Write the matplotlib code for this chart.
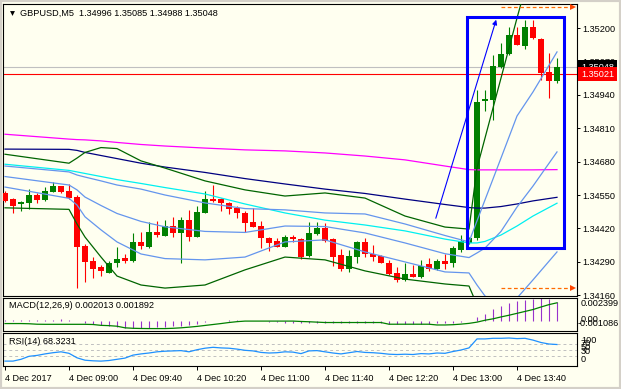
import matplotlib.pyplot as plt
import matplotlib.transforms as mtransforms
from matplotlib.patches import Rectangle

plt.rcParams['font.family'] = ['Liberation Sans', 'DejaVu Sans']

W, H = 621, 389
BG = '#FFFFF0'
FS = 6.6

symbol = 'GBPUSD,M5'

# M5 candles, bar 0 = 08:20
opens = [1.34558, 1.34533, 1.34515, 1.34518, 1.34549, 1.34531, 1.34563, 1.34585, 1.34565, 1.34543,
         1.34351, 1.34293, 1.34268, 1.34247, 1.34286, 1.34303, 1.34293, 1.34368, 1.34348, 1.34407,
         1.34391, 1.34429, 1.34403, 1.34453, 1.34387, 1.34481, 1.34533, 1.34534, 1.34520, 1.34499,
         1.34481, 1.34446, 1.34429, 1.34381, 1.34371, 1.34348, 1.34387, 1.34377, 1.34312, 1.34398,
         1.34423, 1.34378, 1.34316, 1.34260, 1.34309, 1.34366, 1.34320, 1.34312, 1.34286, 1.34247,
         1.34219, 1.34242, 1.34229, 1.34281, 1.34260, 1.34294, 1.34284, 1.34336, 1.34363, 1.34381,
         1.34918, 1.34921, 1.35048, 1.35099, 1.35174, 1.35131, 1.35204, 1.35157, 1.35031, 1.34996]
highs = [1.34566, 1.34538, 1.34527, 1.34573, 1.34557, 1.34583, 1.34601, 1.34587, 1.34591, 1.34550,
         1.34358, 1.34307, 1.34277, 1.34293, 1.34348, 1.34320, 1.34401, 1.34407, 1.34446, 1.34449,
         1.34453, 1.34465, 1.34465, 1.34492, 1.34507, 1.34566, 1.34589, 1.34540, 1.34524, 1.34507,
         1.34489, 1.34498, 1.34450, 1.34385, 1.34381, 1.34394, 1.34394, 1.34381, 1.34446, 1.34446,
         1.34440, 1.34381, 1.34338, 1.34336, 1.34371, 1.34381, 1.34355, 1.34316, 1.34297, 1.34268,
         1.34284, 1.34277, 1.34297, 1.34303, 1.34299, 1.34320, 1.34352, 1.34394, 1.34387, 1.34960,
         1.34960, 1.35096, 1.35142, 1.35206, 1.35206, 1.35233, 1.35233, 1.35161, 1.35103, 1.35085]
lows = [1.34523, 1.34481, 1.34489, 1.34495, 1.34519, 1.34528, 1.34562, 1.34556, 1.34536, 1.34189,
        1.34212, 1.34228, 1.34235, 1.34245, 1.34268, 1.34284, 1.34290, 1.34338, 1.34342, 1.34385,
        1.34390, 1.34387, 1.34286, 1.34372, 1.34385, 1.34479, 1.34524, 1.34489, 1.34475, 1.34459,
        1.34405, 1.34424, 1.34342, 1.34333, 1.34347, 1.34346, 1.34368, 1.34299, 1.34309, 1.34394,
        1.34368, 1.34273, 1.34255, 1.34251, 1.34284, 1.34307, 1.34293, 1.34284, 1.34238, 1.34212,
        1.34216, 1.34229, 1.34225, 1.34255, 1.34258, 1.34260, 1.34270, 1.34329, 1.34359, 1.34375,
        1.34876, 1.34843, 1.35044, 1.35096, 1.35134, 1.35118, 1.35157, 1.34999, 1.34927, 1.34988]
closes = [1.34528, 1.34509, 1.34522, 1.34550, 1.34531, 1.34566, 1.34585, 1.34563, 1.34538, 1.34348,
          1.34290, 1.34260, 1.34255, 1.34286, 1.34299, 1.34294, 1.34368, 1.34351, 1.34407, 1.34394,
          1.34429, 1.34403, 1.34453, 1.34387, 1.34485, 1.34534, 1.34528, 1.34520, 1.34495, 1.34479,
          1.34442, 1.34426, 1.34381, 1.34364, 1.34348, 1.34385, 1.34377, 1.34309, 1.34402, 1.34420,
          1.34371, 1.34309, 1.34260, 1.34312, 1.34368, 1.34319, 1.34307, 1.34286, 1.34242, 1.34219,
          1.34242, 1.34231, 1.34273, 1.34260, 1.34294, 1.34281, 1.34342, 1.34369, 1.34384, 1.34914,
          1.34923, 1.35053, 1.35100, 1.35174, 1.35135, 1.35204, 1.35161, 1.35027, 1.34996, 1.35048]

line_bars = [0, 8, 9, 10, 12, 14, 17, 20, 25, 30, 35, 40, 45, 50, 55, 58, 59, 60, 62, 64, 66, 69]
ma_magenta = [1.34787, 1.34768, 1.34766, 1.34765, 1.34761, 1.34755, 1.34747, 1.34741, 1.34733, 1.34726, 1.34722,
              1.34714, 1.34702, 1.34687, 1.34663, 1.34649, 1.34648, 1.34648, 1.34648, 1.34648, 1.34648, 1.34649]
ma_navy = [1.34729, 1.34728, 1.34724, 1.34716, 1.34704, 1.34692, 1.34674, 1.34659, 1.34638, 1.34614, 1.34593,
           1.34573, 1.34556, 1.34534, 1.34513, 1.34501, 1.34499, 1.34499, 1.34505, 1.34515, 1.34527, 1.34541]
ema_cyan = [1.34670, 1.34646, 1.34640, 1.34634, 1.34622, 1.34610, 1.34595, 1.34579, 1.34554, 1.34515, 1.34480,
            1.34452, 1.34433, 1.34410, 1.34378, 1.34363, 1.34363, 1.34369, 1.34394, 1.34429, 1.34468, 1.34518]
bb_upper = [1.34709, 1.34674, 1.34694, 1.34716, 1.34735, 1.34731, 1.34683, 1.34655, 1.34605, 1.34570, 1.34546,
            1.34558, 1.34538, 1.34468, 1.34425, 1.34417, 1.34655, 1.34772, 1.35006, 1.35240, 1.35467, 1.35701]
bb_lower = [1.34500, 1.34494, 1.34437, 1.34386, 1.34308, 1.34234, 1.34199, 1.34187, 1.34199, 1.34258, 1.34308,
            1.34297, 1.34254, 1.34222, 1.34203, 1.34195, 1.34121, 1.34063, 1.33985, 1.33907, 1.33829, 1.33751]
band_upper = [1.34663, 1.34640, 1.34628, 1.34620, 1.34605, 1.34589, 1.34573, 1.34550, 1.34519, 1.34497, 1.34492,
              1.34480, 1.34476, 1.34437, 1.34392, 1.34367, 1.34449, 1.34531, 1.34694, 1.34858, 1.34952, 1.35108]
band_mid = [1.34622, 1.34589, 1.34570, 1.34542, 1.34509, 1.34478, 1.34447, 1.34426, 1.34408, 1.34404, 1.34429,
            1.34427, 1.34402, 1.34363, 1.34321, 1.34306, 1.34324, 1.34343, 1.34408, 1.34503, 1.34585, 1.34718]
band_lower = [1.34581, 1.34537, 1.34511, 1.34465, 1.34414, 1.34367, 1.34320, 1.34302, 1.34297, 1.34308, 1.34367,
              1.34375, 1.34328, 1.34289, 1.34250, 1.34246, 1.34199, 1.34156, 1.34121, 1.34148, 1.34219, 1.34328]

macd_main = [0.00012, 0.00010, 0.00008, 0.00010, 0.00009, 0.00010, 0.00012, 0.00014, 0.00012,
             -0.00005, -0.00020, -0.00035, -0.00048, -0.00060, -0.00068, -0.00072, -0.00075, -0.00076, -0.00073, -0.00070,
             -0.00066, -0.00060, -0.00052, -0.00045, -0.00032, -0.00018, -0.00006, 0.00002, 0.00004, 0.00003,
             0.00001, -0.00002, -0.00008, -0.00014, -0.00018, -0.00020, -0.00021, -0.00026, -0.00022, -0.00019,
             -0.00021, -0.00022, -0.00027, -0.00028, -0.00026, -0.00025, -0.00026, -0.00027, -0.00030, -0.00033,
             -0.00033, -0.00034, -0.00032, -0.00031, -0.00029, -0.00027, -0.00022, -0.00015, -0.00008, 0.00038,
             0.00075, 0.00120, 0.00155, 0.00185, 0.00208, 0.00222, 0.00234, 0.00239, 0.00226, 0.002013]
macd_signal = [-0.00030, -0.00030, -0.00030, -0.00032, -0.00037, -0.00038, -0.00038, -0.00038, -0.00038,
               -0.00038, -0.00038, -0.00040, -0.00049, -0.00052, -0.00058, -0.00075, -0.00080, -0.00082, -0.00083, -0.00083,
               -0.00083, -0.00080, -0.00075, -0.00068, -0.00060, -0.00050, -0.00040, -0.00030, -0.00019, -0.00010,
               -0.00004, -0.00004, -0.00004, -0.00004, -0.00004, -0.00004, -0.00004, -0.00008, -0.00011, -0.00015,
               -0.00019, -0.00019, -0.00019, -0.00019, -0.00019, -0.00019, -0.00019, -0.00019, -0.00037, -0.00037,
               -0.00037, -0.00037, -0.00037, -0.00037, -0.00045, -0.00045, -0.00042, -0.00036, -0.00028, -0.00015,
               0.00005, 0.00020, 0.00040, 0.00058, 0.00078, 0.00098, 0.00118, 0.00145, 0.00170, 0.001892]
rsi = [13, 13, 19, 29, 32, 37, 41, 44, 39, 24, 16, 14, 13, 15, 19, 23, 33, 37, 40, 44,
       46, 47, 48, 44, 51, 56, 59, 57, 56, 53, 49, 47, 42, 40, 41, 44, 43, 38, 47, 48,
       44, 40, 37, 41, 45, 42, 41, 39, 36, 35, 36, 35, 38, 37, 40, 39, 45, 50, 57, 87,
       87, 89, 89, 90, 88, 89, 83, 75, 70, 68.3231]
rsi_levels = [70, 50, 30]

price_ticks = [1.35200, 1.35070, 1.34940, 1.34810, 1.34680, 1.34550, 1.34420, 1.34290, 1.34160]
time_tick_bars = [0, 8, 16, 24, 32, 40, 48, 56, 64]
time_labels = ['4 Dec 2017', '4 Dec 09:00', '4 Dec 09:40', '4 Dec 10:20', '4 Dec 11:00',
               '4 Dec 11:40', '4 Dec 12:20', '4 Dec 13:00', '4 Dec 13:40']

bid = 1.35048
red_level = 1.35021
box_t0, box_t1, box_lo, box_hi = 57.8, 69.9, 1.34342, 1.35243
trend_t0, trend_p0, trend_t1, trend_p1 = 53.75, 1.34449, 61.5, 1.35244
mark_hi, mark_lo = 1.35284, 1.34186
mark_t0, mark_t1 = 62, 71.0
macd_top, macd_bottom = 0.002399, -0.001086

fig = plt.figure(figsize=(W / 100, H / 100), dpi=100, facecolor=BG)


def px_axes(x0, y0, x1, y1):
    a = fig.add_axes([x0 / W, 1 - y1 / H, (x1 - x0) / W, (y1 - y0) / H])
    a.set_facecolor(BG)
    a.set_xlim(-0.25, 71.5)
    for s in a.spines.values():
        s.set_linewidth(0.8)
        s.set_color('black')
    return a


# main chart
ax = px_axes(3, 4, 577, 296)
ax.set_ylim(1.341561, 1.352949)
bars = list(range(len(opens)))
cols = ['#008000' if c >= o else '#FF0000' for o, c in zip(opens, closes)]
ax.vlines(bars, lows, highs, colors=cols, lw=0.8, zorder=2)
bottoms = [min(o, c) for o, c in zip(opens, closes)]
heights = [max(abs(c - o), 0.00004) for o, c in zip(opens, closes)]
ax.bar(bars, heights, bottom=bottoms, width=0.65, color=cols, lw=0, zorder=3)

for vals, col in [(ma_magenta, '#FF00FF'), (ma_navy, '#000080'), (ema_cyan, '#00F0F0'),
                  (bb_upper, '#006400'), (bb_lower, '#006400'),
                  (band_upper, '#6495ED'), (band_mid, '#6495ED'), (band_lower, '#6495ED')]:
    ax.plot(line_bars, vals, color=col, lw=0.9, zorder=4)

ax.axhline(bid, color='#C0C0C0', lw=0.8, zorder=1)
ax.axhline(red_level, color='#FF0000', lw=0.8, zorder=1)

ax.add_patch(Rectangle((box_t0, box_lo), box_t1 - box_t0, box_hi - box_lo, fill=False,
                       ec='#0000FF', lw=2.2, joinstyle='miter', zorder=6))
ax.annotate('', xy=(trend_t1, trend_p1), xytext=(trend_t0, trend_p0),
            arrowprops=dict(arrowstyle='-|>', color='#0000FF', lw=0.8, mutation_scale=7), zorder=6)

for lvl in [mark_hi, mark_lo]:
    ax.plot([mark_t0, mark_t1], [lvl, lvl], ls=(0, (3, 2)), color='#FF6A00', lw=0.9, zorder=6)
    ax.plot([mark_t1], [lvl], marker='>', color='#FF4500', ms=4, mew=0, zorder=6, clip_on=False)

ax.set_xticks([])
ax.yaxis.tick_right()
ax.set_yticks(price_ticks)
ax.set_yticklabels([f'{p:.5f}' for p in price_ticks])
ax.tick_params(axis='y', direction='out', length=2.5, width=0.7, pad=1.5, labelsize=FS)

trans = mtransforms.blended_transform_factory(ax.transAxes, ax.transData)
ax.text(1.0069, bid, f'{bid:.5f}', transform=trans, color='white', fontsize=FS, va='center', ha='left',
        bbox=dict(boxstyle='square,pad=0.3', fc='black', ec='none'), clip_on=False, zorder=10)
ax.text(1.0069, red_level, f'{red_level:.5f}', transform=trans, color='white', fontsize=FS, va='center',
        ha='left', bbox=dict(boxstyle='square,pad=0.3', fc='#FF0000', ec='none'), clip_on=False, zorder=11)

ax.plot([0.0157], [0.969], transform=ax.transAxes, marker='v', ms=3.5, color='black', mew=0)
fig.text(20 / W, 1 - 13 / H, f'{symbol}  {opens[-1]:.5f} {highs[-1]:.5f} {lows[-1]:.5f} {closes[-1]:.5f}',
         fontsize=FS, va='center', ha='left')

# MACD
axm = px_axes(3, 298, 577, 331)
axm.set_ylim(macd_bottom, macd_top)
axm.vlines(bars, 0, macd_main, colors='#9932CC', lw=0.8)
axm.plot(bars, macd_signal, color='#008000', lw=0.9)
axm.set_xticks([])
axm.set_yticks([])
fig.text(9 / W, 1 - 306 / H, f'MACD(12,26,9) {macd_main[-1]:.6f} {macd_signal[-1]:.6f}',
         fontsize=FS, va='center', ha='left')
fig.text(581 / W, 1 - 304 / H, f'{macd_top:.6f}', fontsize=FS, va='center', ha='left')
fig.text(581 / W, 1 - 320 / H, '0.00', fontsize=FS, va='center', ha='left')
fig.text(578 / W, 1 - 323 / H, f'{macd_bottom:.6f}', fontsize=FS, va='center', ha='left')

# RSI
axr = px_axes(3, 333, 577, 366)
axr.set_ylim(-3.3, 106.7)
for lvl in rsi_levels:
    axr.axhline(lvl, color='#C0C0C0', lw=0.7, ls=(0, (3, 3)))
axr.plot(bars, rsi, color='#1E90FF', lw=0.9)
axr.set_yticks([])
fig.text(9 / W, 1 - 342 / H, f'RSI(14) {rsi[-1]:.4f}', fontsize=FS, va='center', ha='left')
for lab, py in zip(['100', '70', '50', '30', '0'], [340.5, 344, 347.5, 352, 359]):
    fig.text(581 / W, 1 - py / H, lab, fontsize=FS, va='center', ha='left')

axr.set_xticks(time_tick_bars)
axr.set_xticklabels(time_labels, ha='left')
axr.tick_params(axis='x', direction='out', length=3, width=0.7, pad=2.5, labelsize=FS)

fig.add_artist(Rectangle((0, 0), 1, 1, transform=fig.transFigure, fill=False, ec='#D4D0C8', lw=3))

fig.savefig('out.png', dpi=100, facecolor=BG)
